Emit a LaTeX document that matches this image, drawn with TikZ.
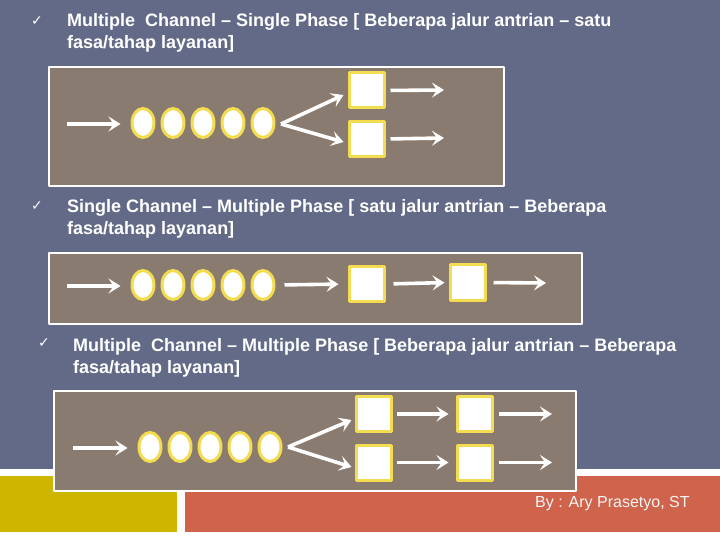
\documentclass[tikz,border=0pt]{standalone}
\usepackage{fontspec}
\setmainfont{Liberation Sans}
\newfontfamily\symfont{DejaVu Sans}
\usepackage{xcolor}
\usetikzlibrary{arrows.meta,shapes.geometric,calc}
\definecolor{slate}{HTML}{636A87}
\definecolor{boxbrown}{HTML}{8A7B70}
\definecolor{glow}{HTML}{F3DC50}
\definecolor{mustard}{HTML}{CDB500}
\definecolor{brick}{HTML}{D0634B}

\begin{document}
\begin{tikzpicture}[line join=round,x=1bp,y=-1bp,
        >={Stealth[length=12bp,width=15bp,inset=5bp]},
        flow/.style={->,draw=white,line width=3.6bp},
        cust/.style={ellipse,draw=glow,line width=3bp,fill=white,minimum width=22bp,minimum height=29bp,inner sep=0pt},
        srv/.style={rectangle,draw=glow,line width=3bp,fill=white,minimum size=35bp,inner sep=0pt},
        panel/.style={draw=white,line width=2.5bp,fill=boxbrown},
        head/.style={anchor=base west,align=left,text=white,inner sep=0pt,font=\fontsize{18bp}{22bp}\selectfont\bfseries},
        tick/.style={text=white,inner sep=0pt,font=\symfont\fontsize{14bp}{14bp}\selectfont}]
                \useasboundingbox (0,0) rectangle (720,540);
                \fill [white] (0,0) rectangle (720,540);
                \fill [slate] (0,0) rectangle (720,469);
                \fill [mustard] (0,476) rectangle (177,532);
                \fill [brick] (185,476) rectangle (720,532);
                % panels
                \draw [panel] (49,67) rectangle (504,186);
                \draw [panel] (49,253) rectangle (582,324);
                \draw [panel] (54,391) rectangle (576,491);
                % multiple channel - single phase
                \coordinate (a0) at (67,124);
                \node[cust] (a1) at (143,123) {};
                \node[cust] (a2) at (173,123) {};
                \node[cust] (a3) at (203,123) {};
                \node[cust] (a4) at (233,123) {};
                \node[cust] (a5) at (263,123) {};
                \coordinate (ax) at (281,124);
                \node[srv] (a6) at (366.5,90.5) {};
                \node[srv] (a7) at (366.5,139) {};
                \coordinate (a8) at (444,90);
                \coordinate (a9) at (444,138);
                \draw [flow,shorten >=10bp] (a0) -- (a0 -| a1.west);
                \draw [flow] (ax) -- ($(a6.west)+(-4,4.5)$);
                \draw [flow] (ax) -- ($(a7.west)+(-4,3)$);
                \draw [flow,shorten <=5bp] (a6.east) -- (a8);
                \draw [flow,shorten <=5bp] (a7.east) -- (a9);
                % single channel - multiple phase
                \coordinate (b0) at (67,286);
                \node[cust] (b1) at (143,285) {};
                \node[cust] (b2) at (173,285) {};
                \node[cust] (b3) at (203,285) {};
                \node[cust] (b4) at (233,285) {};
                \node[cust] (b5) at (263,285) {};
                \node[srv] (b6) at (366.5,284) {};
                \node[srv] (b7) at (467.5,282.5) {};
                \coordinate (b8) at (546,283);
                \draw [flow,shorten >=10bp] (b0) -- (b0 -| b1.west);
                \draw [flow,shorten <=9bp,shorten >=9bp] (b5.east) -- (b6.west);
                \draw [flow,shorten <=8bp,shorten >=4bp] (b6.east) -- (b7.west);
                \draw [flow,shorten <=7bp] (b7.east) -- (b8);
                % multiple channel - multiple phase
                \coordinate (c0) at (73,448);
                \node[cust] (c1) at (150,447) {};
                \node[cust] (c2) at (180,447) {};
                \node[cust] (c3) at (210,447) {};
                \node[cust] (c4) at (240,447) {};
                \node[cust] (c5) at (270,447) {};
                \coordinate (cx) at (288,447);
                \node[srv] (c6) at (373.5,414) {};
                \node[srv] (c7) at (373.5,462.5) {};
                \node[srv] (c8) at (474.5,414) {};
                \node[srv] (c9) at (474.5,462.5) {};
                \coordinate (c10) at (552,414);
                \coordinate (c11) at (552,462.5);
                \draw [flow,shorten >=10bp] (c0) -- (c0 -| c1.west);
                \draw [flow] (cx) -- ($(c6.west)+(-3,6)$);
                \draw [flow] (cx) -- ($(c7.west)+(-3,4.5)$);
                \draw [flow,shorten <=4bp,shorten >=7bp] (c6.east) -- (c8.west);
                \draw [flow,shorten <=4bp,shorten >=7bp] (c7.east) -- (c9.west);
                \draw [flow,shorten <=5bp] (c8.east) -- (c10);
                \draw [flow,shorten <=5bp] (c9.east) -- (c11);
                % headings (base = last line)
                \node[tick] (k1) at (37,21) {✓};
                \node[head] (t1) at (67,49) {Multiple\ \ Channel – Single Phase [ Beberapa jalur antrian – satu\\fasa/tahap layanan]};
                \node[tick] (k2) at (37,206) {✓};
                \node[head] (t2) at (67,235) {Single Channel – Multiple Phase [ satu jalur antrian – Beberapa\\fasa/tahap layanan]};
                \node[tick] (k3) at (44,343) {✓};
                \node[head] (t3) at (73,373) {Multiple\ \ Channel – Multiple Phase [ Beberapa jalur antrian – Beberapa\\fasa/tahap layanan]};
                \node[anchor=base west,inner sep=0pt,text=white!92!gray,font=\fontsize{16bp}{16bp}\selectfont] (by) at (535,507) {By : Ary Prasetyo, ST};
\end{tikzpicture}
\end{document}
